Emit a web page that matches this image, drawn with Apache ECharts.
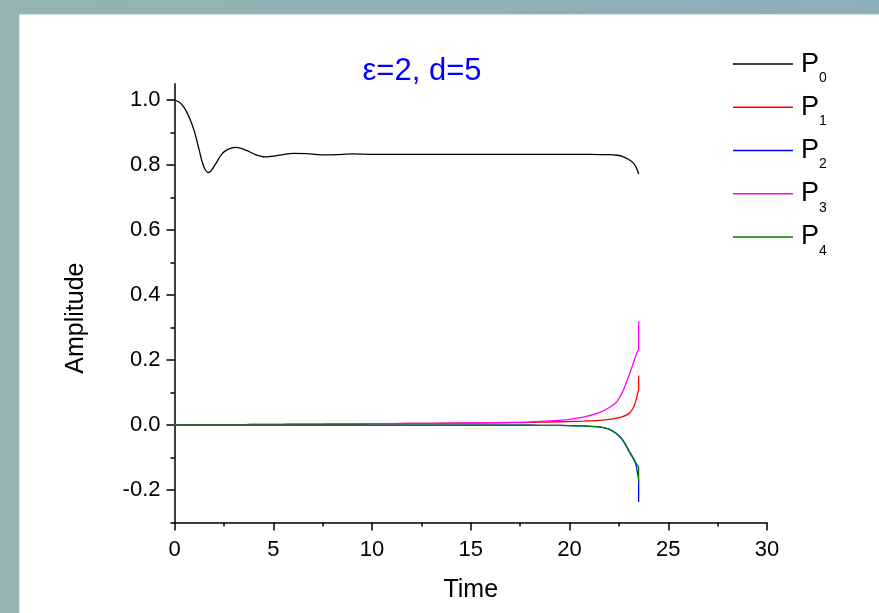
<!DOCTYPE html>
<html>
<head>
<meta charset="utf-8">
<script src="https://cdn.jsdelivr.net/npm/echarts@6/dist/echarts.min.js"></script>
<style>
  html, body { margin: 0; padding: 0; }
  body { width: 879px; height: 613px; overflow: hidden; position: relative;
         background: linear-gradient(to right, #94b4b2, #8eafbc); }
  #panel { position: absolute; left: 19px; top: 14px; width: 860px; height: 599px;
           background: #ffffff; border-left: 1px solid #d6e6e6; border-top: 1px solid #d6e6e6; box-sizing: border-box; }
  #chart { position: absolute; left: 0; top: 0; width: 879px; height: 613px; }
</style>
</head>
<body>
<div id="panel"></div>
<div id="chart"></div>
<script>
// ---- data ----
const titleText = 'ε=2, d=5';
const xTitle = 'Time';
const yTitle = 'Amplitude';
const seriesNames = ['P0', 'P1', 'P2', 'P3', 'P4'];
const seriesColors = ['#000000', '#ff0000', '#0000ff', '#ff00ff', '#008000'];

const time = [0, 0.25, 0.5, 0.75, 1.0, 1.2, 1.4, 1.55, 1.7, 1.85,
              2.1, 2.4, 2.7, 3.1, 3.6, 4.1, 4.6, 5.1, 5.5, 6.0,
              6.7, 7.4, 8.2, 9, 10, 12, 14, 16, 17, 18,
              19, 20, 20.7, 21.5, 22, 22.4, 22.7, 23.0, 23.2, 23.35,
              23.45, 23.5, 23.5];

const P0 = [1.000, 0.993, 0.976, 0.946, 0.905, 0.858, 0.810, 0.786, 0.777, 0.782,
            0.805, 0.834, 0.848, 0.854, 0.846, 0.832, 0.825, 0.828, 0.832, 0.836,
            0.835, 0.831, 0.832, 0.834, 0.833, 0.833, 0.833, 0.833, 0.833, 0.833,
            0.833, 0.833, 0.833, 0.832, 0.832, 0.830, 0.826, 0.817, 0.808, 0.796,
            0.782, 0.772, 0.772];

const P1 = [0, 0.0001, 0.0002, 0.0003, 0.0004, 0.0005, 0.0006, 0.0006, 0.0007, 0.0007,
            0.0008, 0.0010, 0.0011, 0.0012, 0.0014, 0.0016, 0.0018, 0.0020, 0.0022, 0.0024,
            0.0027, 0.0030, 0.0033, 0.0036, 0.0040, 0.0048, 0.0056, 0.0065, 0.0070, 0.0080,
            0.0092, 0.0108, 0.0122, 0.0145, 0.017, 0.021, 0.026, 0.035, 0.050, 0.072,
            0.098, 0.110, 0.152];

const P2 = [0, 0, 0, 0, 0, 0, 0, 0, 0, 0,
            0, 0, 0, 0, 0, 0, 0, 0, 0, 0,
            0, 0, 0, 0, -0.0001, -0.0002, -0.0003, -0.0005, -0.0006, -0.0008,
            -0.0011, -0.0018, -0.0030, -0.0060, -0.0130, -0.0280, -0.0470, -0.0800, -0.1000, -0.1180,
            -0.150, -0.170, -0.237];

const P3 = [0, 0.0001, 0.0002, 0.0003, 0.0004, 0.0005, 0.0006, 0.0006, 0.0007, 0.0007,
            0.0008, 0.0010, 0.0011, 0.0012, 0.0014, 0.0016, 0.0018, 0.0020, 0.0022, 0.0024,
            0.0027, 0.0030, 0.0033, 0.0036, 0.0040, 0.0048, 0.0057, 0.0068, 0.0078, 0.0095,
            0.0125, 0.0175, 0.024, 0.038, 0.053, 0.072, 0.104, 0.150, 0.185, 0.212,
            0.227, 0.232, 0.319];

const P4 = [0, 0, 0, 0, 0, 0, 0, 0, 0, 0,
            0, 0, 0, 0, 0, 0, 0, 0, 0, 0,
            0, 0, 0, 0, -0.0001, -0.0002, -0.0003, -0.0005, -0.0006, -0.0008,
            -0.0011, -0.0018, -0.0030, -0.0058, -0.0125, -0.0270, -0.0460, -0.0780, -0.0980, -0.1150,
            -0.125, -0.130, -0.175];

const xTicks = { min: 0, max: 30, interval: 5 };
const yMajor = { min: -0.2, max: 1.0, interval: 0.2 };
const yMinor = { min: -0.3, max: 1.0, interval: 0.1 };
const yRange = { min: -0.3, max: 1.05 };

// ---- chart ----
const FONT = '"Liberation Sans", Arial, Helvetica, sans-serif';
const allValues = [P0, P1, P2, P3, P4];
const chart = echarts.init(document.getElementById('chart'), null, { renderer: 'canvas' });

const gridPos = { left: 174.5, right: 112 };
const axisLineStyle = { color: '#000', width: 1.5 };

const series = seriesNames.map((name, i) => ({
  name: name,
  type: 'line',
  xAxisIndex: 0,
  yAxisIndex: 0,
  data: time.map((t, k) => [t, allValues[i][k]]),
  showSymbol: false,
  symbol: 'none',
  smooth: 0.3,
  color: seriesColors[i],
  lineStyle: { color: seriesColors[i], width: 1.3 },
  itemStyle: { color: seriesColors[i] },
  animation: false,
  z: 2 + i
}));

const option = {
  animation: false,
  textStyle: { fontFamily: FONT },
  title: {
    text: titleText,
    left: 422,
    top: 56,
    padding: 0,
    textAlign: 'center',
    textStyle: { color: '#0000ff', fontSize: 31, fontWeight: 'normal', fontFamily: FONT }
  },
  legend: {
    orient: 'vertical',
    left: 733,
    top: 50.6,
    padding: 0,
    itemWidth: 60,
    itemHeight: 1.5,
    itemGap: 8.7,
    icon: 'rect',
    selectedMode: false,
    data: seriesNames,
    formatter: function (name) { return '{p|P}{s|' + name.slice(1) + '}'; },
    textStyle: {
      color: '#000',
      fontFamily: FONT,
      rich: {
        p: { fontSize: 27, lineHeight: 42, verticalAlign: 'middle', padding: [0, 0, 0, 3], color: '#000', fontFamily: FONT },
        s: { fontSize: 14, lineHeight: 6, verticalAlign: 'bottom', color: '#000', fontFamily: FONT }
      }
    }
  },
  grid: [
    { left: gridPos.left, right: gridPos.right, top: 83.75, bottom: 90.5, containLabel: false },
    { left: gridPos.left, right: gridPos.right, top: 100, bottom: 123, containLabel: false },
    { left: gridPos.left, right: gridPos.right, top: 100, bottom: 90.5, containLabel: false }
  ],
  xAxis: [
    {
      gridIndex: 0, type: 'value', min: xTicks.min, max: xTicks.max, interval: xTicks.interval,
      name: xTitle, nameLocation: 'middle', nameGap: 55,
      nameTextStyle: { fontSize: 25, color: '#000', fontFamily: FONT },
      axisLine: { show: true, onZero: false, lineStyle: axisLineStyle },
      axisTick: { show: true, length: 8, lineStyle: axisLineStyle },
      minorTick: { show: true, splitNumber: 2, length: 4, lineStyle: axisLineStyle },
      axisLabel: { fontSize: 22, color: '#000', margin: 16, fontFamily: FONT },
      splitLine: { show: false }
    },
    { gridIndex: 1, type: 'value', min: xTicks.min, max: xTicks.max, show: false },
    { gridIndex: 2, type: 'value', min: xTicks.min, max: xTicks.max, show: false }
  ],
  yAxis: [
    {
      gridIndex: 0, type: 'value', min: yRange.min, max: yRange.max,
      name: yTitle, nameLocation: 'middle', nameGap: 86, nameRotate: 90,
      nameTextStyle: { fontSize: 25, color: '#000', fontFamily: FONT, padding: [0, 30, 0, 0] },
      axisLine: { show: true, onZero: false, lineStyle: axisLineStyle },
      axisTick: { show: false },
      axisLabel: { show: false },
      splitLine: { show: false }
    },
    {
      gridIndex: 1, type: 'value', min: yMajor.min, max: yMajor.max, interval: yMajor.interval,
      axisLine: { show: false, onZero: false },
      axisTick: { show: true, length: 8, lineStyle: axisLineStyle },
      axisLabel: { fontSize: 22, color: '#000', margin: 14, fontFamily: FONT,
                   formatter: v => v.toFixed(1) },
      splitLine: { show: false }
    },
    {
      gridIndex: 2, type: 'value', min: yMinor.min, max: yMinor.max, interval: yMinor.interval,
      axisLine: { show: false, onZero: false },
      axisTick: { show: true, length: 4, lineStyle: axisLineStyle },
      axisLabel: { show: false },
      splitLine: { show: false }
    }
  ],
  series: series
};

chart.setOption(option);
</script>
</body>
</html>
